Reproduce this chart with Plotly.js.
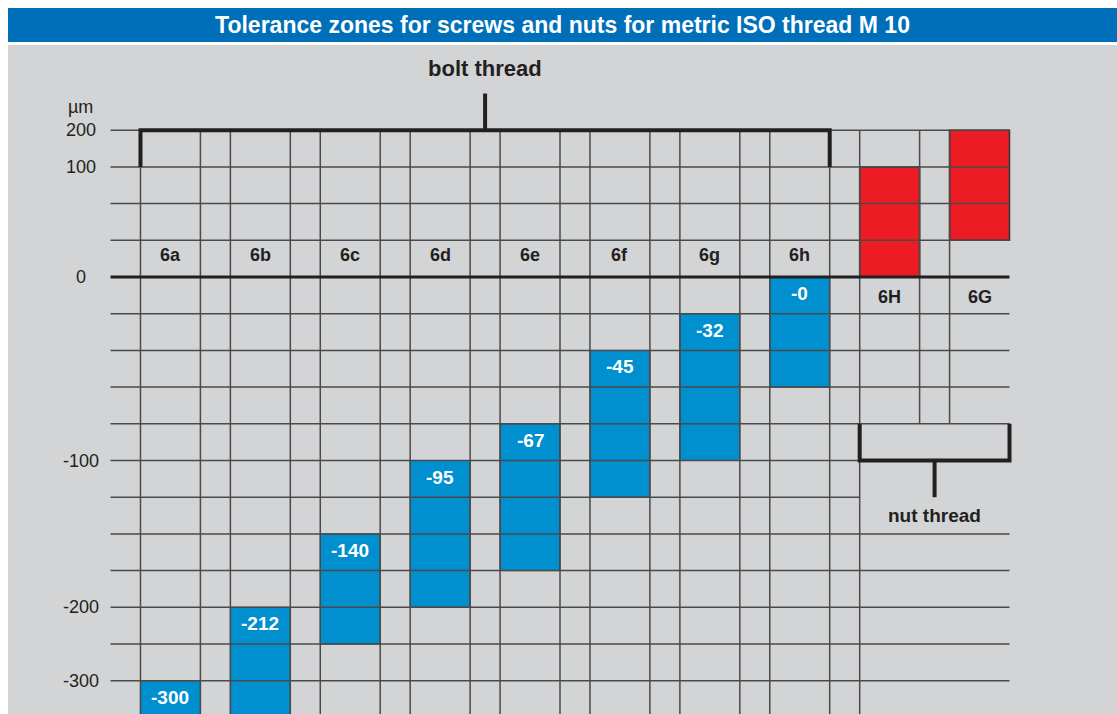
<!DOCTYPE html>
<html>
<head>
<meta charset="utf-8">
<script src="https://cdn.plot.ly/plotly-3.0.1.min.js"></script>
<style>html,body{margin:0;padding:0;background:#fff;}#chart{width:1117px;height:714px;}</style>
</head>
<body>
<div id="chart"></div>
<script>
// ---- data (schematic grid rows: 1 row = one grid cell, 0 = zero line) ----
const boltClasses = ['6a', '6b', '6c', '6d', '6e', '6f', '6g', '6h'];
const boltUpperDeviation = ['-300', '-212', '-140', '-95', '-67', '-45', '-32', '-0'];
const boltTopRow = [-11, -9, -7, -5, -4, -2, -1, 0];
const boltBottomRow = [-15, -13, -10, -9, -8, -6, -5, -3];
const nutClasses = ['6H', '6G'];
const nutTopRow = [3, 4];
const nutBottomRow = [0, 1];
const yTickLabels = ['200', '100', '0', '-100', '-200', '-300'];
const yTickRows = [4, 3, 0, -5, -9, -11];
const gridRows = [4, 3, 2, 1, -1, -2, -3, -4, -5, -6, -7, -8, -9, -10, -11];

const FONT = '"Liberation Sans", Arial, Helvetica, sans-serif';
const DARK = '#231f20';
const GRID = '#4a4a4a';
const BLUE = '#008fcf';
const RED = '#ed1c24';
const HALF = 1 / 3;

const nBolt = boltClasses.length;
const boltX = boltClasses.map((c, i) => i);
const nutX = nutClasses.map((c, i) => nBolt + i);
const xLeft = -2 * HALF;
const xRight = nBolt + nutClasses.length - 1 + HALF;

const traces = [
  {
    type: 'bar', x: boltX, base: boltBottomRow,
    y: boltTopRow.map((t, i) => t - boltBottomRow[i]),
    width: 2 * HALF, marker: {color: BLUE, line: {color: '#333', width: 1}},
    hoverinfo: 'skip', showlegend: false
  },
  {
    type: 'bar', x: nutX, base: nutBottomRow,
    y: nutTopRow.map((t, i) => t - nutBottomRow[i]),
    width: 2 * HALF, marker: {color: RED, line: {color: '#333', width: 1.5}},
    hoverinfo: 'skip', showlegend: false
  }
];

const shapes = [];
// title band
shapes.push({type: 'rect', xref: 'paper', yref: 'paper', x0: 0, x1: 1, y0: 1 + 3 / 669, y1: 1 + 37 / 669,
  fillcolor: '#006fba', line: {width: 0}, layer: 'below'});
// horizontal grid lines
gridRows.forEach(r => {
  const x1 = (r === -6) ? nBolt - 1 + 2 * HALF : xRight;
  shapes.push({type: 'line', xref: 'x', yref: 'y', x0: xLeft, x1: x1, y0: r, y1: r, line: {color: GRID, width: 1.5}});
});
// vertical grid lines for bolt columns
boltX.forEach(i => {
  [i - HALF, i + HALF].forEach(xv => {
    shapes.push({type: 'line', xref: 'x', yref: 'y', x0: xv, x1: xv, y0: 4, y1: -13, line: {color: GRID, width: 1.5}});
  });
});
// nut columns
shapes.push({type: 'line', xref: 'x', yref: 'y', x0: nutX[0] - HALF, x1: nutX[0] - HALF, y0: 4, y1: -13, line: {color: GRID, width: 1.5}});
shapes.push({type: 'line', xref: 'x', yref: 'y', x0: nutX[0] + HALF, x1: nutX[0] + HALF, y0: 4, y1: -4, line: {color: GRID, width: 1.5}});
shapes.push({type: 'line', xref: 'x', yref: 'y', x0: nutX[1] - HALF, x1: nutX[1] - HALF, y0: 4, y1: -4, line: {color: GRID, width: 1.5}});
// zero line
shapes.push({type: 'line', xref: 'x', yref: 'y', x0: xLeft, x1: xRight, y0: 0, y1: 0, line: {color: DARK, width: 3}});
// bolt thread bracket
const bL = boltX[0] - HALF, bR = boltX[nBolt - 1] + HALF, bC = (bL + bR) / 2;
shapes.push({type: 'path', xref: 'x', yref: 'y', path: `M${bL},3 L${bL},4 L${bR},4 L${bR},3`, line: {color: DARK, width: 4}});
shapes.push({type: 'line', xref: 'x', yref: 'y', x0: bC, x1: bC, y0: 4, y1: 5, line: {color: DARK, width: 4}});
// nut thread bracket
const nL = nutX[0] - HALF, nR = nutX[1] + HALF, nC = (nL + nR) / 2;
shapes.push({type: 'path', xref: 'x', yref: 'y', path: `M${nL},-4 L${nL},-5 L${nR},-5 L${nR},-4`, line: {color: DARK, width: 4}});
shapes.push({type: 'line', xref: 'x', yref: 'y', x0: nC, x1: nC, y0: -5, y1: -6, line: {color: DARK, width: 4}});

const annotations = [];
boltClasses.forEach((c, i) => annotations.push({x: boltX[i], y: 0.6, xref: 'x', yref: 'y', text: '<b>' + c + '</b>', showarrow: false,
  font: {family: FONT, size: 18, color: DARK}}));
nutClasses.forEach((c, i) => annotations.push({x: nutX[i], y: -0.55, xref: 'x', yref: 'y', text: '<b>' + c + '</b>', showarrow: false,
  font: {family: FONT, size: 18, color: DARK}}));
boltUpperDeviation.forEach((v, i) => annotations.push({x: boltX[i], y: boltTopRow[i] - 0.45, xref: 'x', yref: 'y', text: '<b>' + v + '</b>', showarrow: false,
  font: {family: FONT, size: 19, color: '#ffffff'}}));
yTickLabels.forEach((t, i) => annotations.push({x: -1.0, y: yTickRows[i], xref: 'x', yref: 'y', text: t, showarrow: false,
  font: {family: FONT, size: 18, color: DARK}}));
annotations.push({x: -1.0, y: 4.62, xref: 'x', yref: 'y', text: 'µm', showarrow: false, font: {family: FONT, size: 18, color: DARK}});
annotations.push({x: bC, y: 5.69, xref: 'x', yref: 'y', text: '<b>bolt thread</b>', showarrow: false, font: {family: FONT, size: 22, color: DARK}});
annotations.push({x: nC, y: -6.49, xref: 'x', yref: 'y', text: '<b>nut thread</b>', showarrow: false, font: {family: FONT, size: 19, color: DARK}});

const layout = {
  width: 1117, height: 714,
  margin: {l: 8, r: 0, t: 45, b: 0, pad: 0},
  paper_bgcolor: '#ffffff', plot_bgcolor: '#d3d4d6',
  title: {text: '<b>Tolerance zones for screws and nuts for metric ISO thread M 10</b>', xref: 'paper', x: 0.5, xanchor: 'center',
    yref: 'container', y: 1 - 25 / 714, yanchor: 'middle', font: {family: FONT, size: 23, color: '#ffffff'}},
  xaxis: {range: [-1.807, 10.529], showgrid: false, zeroline: false, showticklabels: false, showline: false, fixedrange: true},
  yaxis: {range: [-11.907, 6.322], showgrid: false, zeroline: false, showticklabels: false, showline: false, fixedrange: true},
  shapes: shapes, annotations: annotations, barmode: 'overlay', showlegend: false
};

Plotly.newPlot('chart', traces, layout, {displayModeBar: false, staticPlot: true});
</script>
</body>
</html>
